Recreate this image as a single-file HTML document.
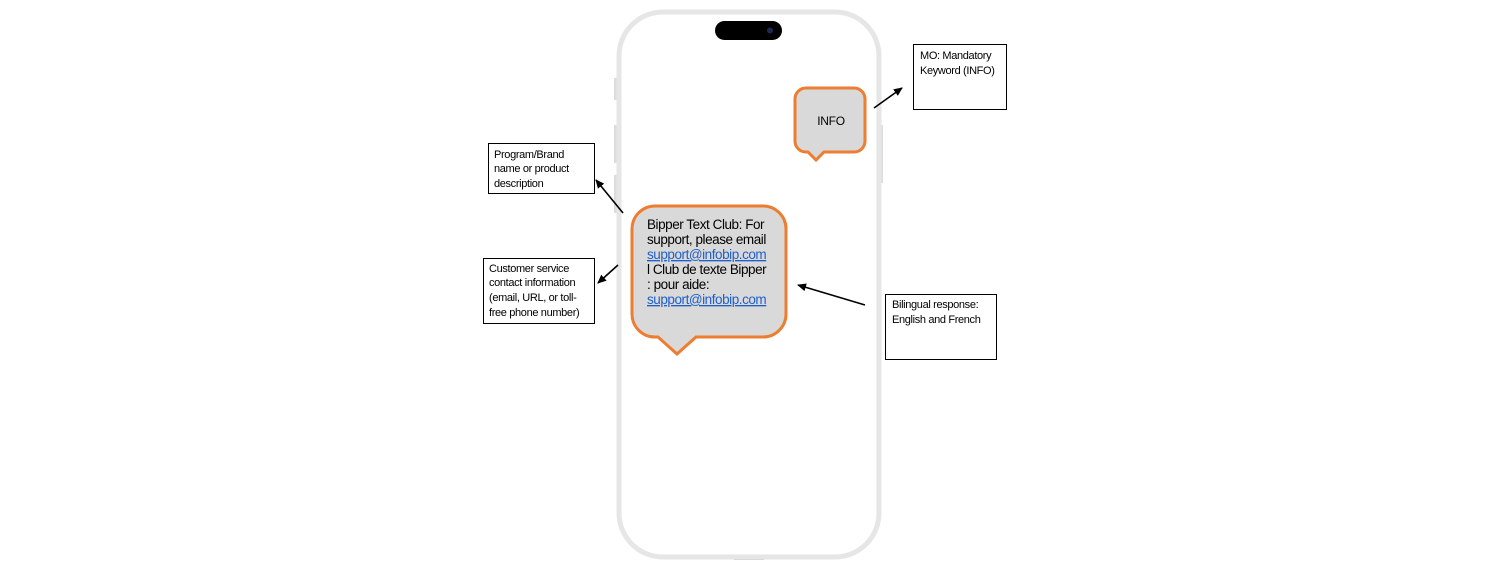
<!DOCTYPE html>
<html><head><meta charset="utf-8"><style>
html,body{margin:0;padding:0;background:#fff;}
svg{display:block}
text{font-family:"Liberation Sans",Arial,sans-serif;}
.b{font-size:11px;letter-spacing:-0.35px}
</style></head><body>
<svg width="1500" height="571" viewBox="0 0 1500 571" xmlns="http://www.w3.org/2000/svg">
<defs><marker id="a" markerWidth="10" markerHeight="10" refX="8" refY="5" orient="auto" markerUnits="userSpaceOnUse"><path d="M0,1 L9,5 L0,9 z" fill="#000"/></marker></defs>
<rect x="614" y="78" width="4" height="22" fill="#ddd"/>
<rect x="614" y="125" width="4" height="38" fill="#ddd"/>
<rect x="614" y="175" width="4" height="38" fill="#ddd"/>
<rect x="879" y="125" width="4" height="58" fill="#ddd"/>
<rect x="734" y="557" width="30" height="3" fill="#ccc"/>
<rect x="619" y="12" width="260" height="545" rx="44" fill="#fff" stroke="#e6e6e6" stroke-width="5"/>
<rect x="715" y="21" width="67" height="19" rx="9.5" fill="#000"/>
<circle cx="770" cy="30.5" r="3" fill="#1a2a55"/>
<path d="M806,88 h48 a11,11 0 0 1 11,11 v42 a11,11 0 0 1 -11,11 h-30 l-8,8 l-8,-8 h-2 a11,11 0 0 1 -11,-11 v-42 a11,11 0 0 1 11,-11 z" fill="#d9d9d9" stroke="#ed7d31" stroke-width="3"/>
<text x="831" y="125" font-size="12" text-anchor="middle" letter-spacing="-0.3">INFO</text>
<path d="M655,206 h108 a23,23 0 0 1 23,23 v85 a23,23 0 0 1 -23,23 h-67 l-19,17 l-19,-17 h-3 a23,23 0 0 1 -23,-23 v-85 a23,23 0 0 1 23,-23 z" fill="#d9d9d9" stroke="#ed7d31" stroke-width="3"/>
<g font-size="13.5" fill="#000" letter-spacing="-0.45">
<text x="647" y="229">Bipper Text Club: For</text>
<text x="647" y="244">support, please email</text>
<text x="647" y="259" fill="#1f5fc9" text-decoration="underline">support@infobip.com</text>
<text x="647" y="274">l Club de texte Bipper</text>
<text x="647" y="289">: pour aide:</text>
<text x="647" y="304" fill="#1f5fc9" text-decoration="underline">support@infobip.com</text>
</g>
<rect x="913.5" y="44.5" width="93" height="65" fill="#fff" stroke="#000"/>
<text class="b" x="920" y="59">MO: Mandatory</text>
<text class="b" x="920" y="74">Keyword (INFO)</text>
<rect x="488.5" y="143.5" width="106" height="50" fill="#fff" stroke="#000"/>
<text class="b" x="494" y="158">Program/Brand</text>
<text class="b" x="494" y="172">name or product</text>
<text class="b" x="494" y="187">description</text>
<rect x="483.5" y="258.5" width="111" height="65" fill="#fff" stroke="#000"/>
<text class="b" x="489" y="272">Customer service</text>
<text class="b" x="489" y="286">contact information</text>
<text class="b" x="489" y="301">(email, URL, or toll-</text>
<text class="b" x="489" y="316">free phone number)</text>
<rect x="885.5" y="294.5" width="111" height="65" fill="#fff" stroke="#000"/>
<text class="b" x="892" y="308">Bilingual response:</text>
<text class="b" x="892" y="323">English and French</text>
<g stroke="#000" stroke-width="1.6" marker-end="url(#a)">
<line x1="874" y1="108" x2="902" y2="88"/>
<line x1="623" y1="213" x2="596" y2="180"/>
<line x1="618" y1="265" x2="598" y2="283"/>
<line x1="865" y1="305" x2="798" y2="285"/>
</g>
</svg>
</body></html>
